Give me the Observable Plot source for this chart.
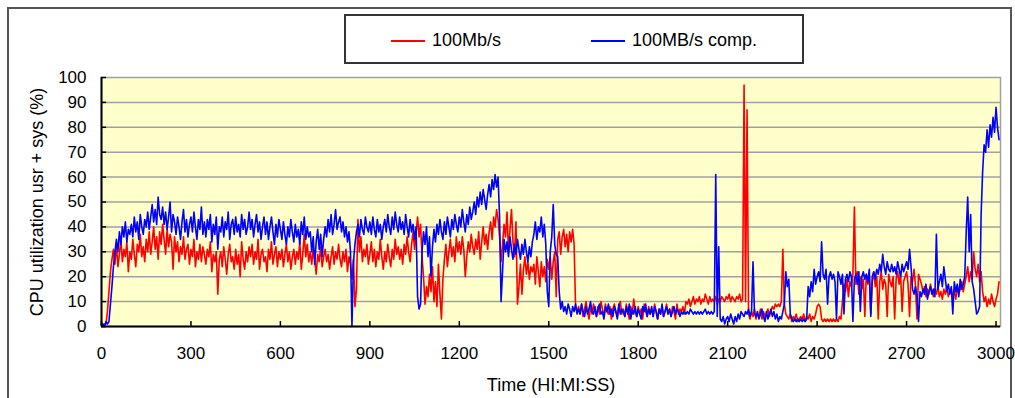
<!DOCTYPE html>
<html>
<head>
<meta charset="utf-8">
<script src="https://cdn.jsdelivr.net/npm/d3@7"></script>
<script src="https://cdn.jsdelivr.net/npm/@observablehq/plot@0.6"></script>
<style>
  html, body { margin: 0; padding: 0; background: #fff; }
  #wrap { position: relative; width: 1015px; height: 398px; overflow: hidden; font-family: "Liberation Sans", Arial, sans-serif; }
  #border { position: absolute; left: 7px; top: 7px; width: 1005px; height: 420px; border: 2px solid #555; box-sizing: border-box; }
  #legend { position: absolute; left: 344px; top: 14px; width: 460px; height: 50px; border: 2px solid #333; box-sizing: border-box; background: #fff; }
  .sw { position: absolute; top: 24px; width: 34px; height: 0; border-top: 2px solid; }
  .lt { position: absolute; top: 13px; font-size: 18px; line-height: 22px; color: #000; white-space: nowrap; }
  #chart { position: absolute; left: 0; top: 0; }
</style>
</head>
<body>
<div id="wrap">
  <div id="border"></div>
  <div id="chart"></div>
  <div id="legend">
    <div class="sw" style="left:45px;border-color:#ff0000"></div>
    <div class="lt" id="l1" style="left:86px"></div>
    <div class="sw" style="left:245px;border-color:#0000ff"></div>
    <div class="lt" id="l2" style="left:286px"></div>
  </div>
</div>
<script>
const seriesNames = ["100Mb/s", "100MB/s comp."];
const xTitle = "Time (HI:MI:SS)";
const yTitle = "CPU utilization usr + sys (%)";
const xTicks = [0, 300, 600, 900, 1200, 1500, 1800, 2100, 2400, 2700, 3000];
const yTicks = [0, 10, 20, 30, 40, 50, 60, 70, 80, 90, 100];
const stepSeconds = 5;

// 100Mb/s (red), one value every 5 s from 0 to 3010 (rows of 50 s)
const red = [
  1,0,1,1,6,14,22,27,31,25,
  33,24,29,35,26,31,28,34,22,30,
  27,35,29,24,33,30,37,28,32,26,
  35,30,38,29,34,40,31,36,27,38,
  33,41,35,29,39,32,37,34,23,36,
  30,34,26,32,29,36,27,31,33,25,
  31,28,35,24,30,27,33,26,32,29,
  25,31,28,34,22,29,26,30,13,27,
  30,24,32,27,21,29,33,26,28,23,
  31,25,29,20,34,27,23,30,26,32,
  28,33,25,30,27,35,23,29,31,26,
  28,22,31,27,34,25,29,32,24,30,
  27,31,24,29,33,26,30,23,28,31,
  25,30,27,34,23,29,37,28,33,26,
  30,25,31,27,21,29,26,32,24,28,
  31,26,29,23,28,32,25,30,27,33,
  27,24,30,26,31,22,28,25,19,27,
  8,15,43,30,36,26,31,28,33,25,
  29,34,26,31,24,30,27,35,28,23,
  30,26,33,28,24,31,27,35,29,32,
  27,31,25,33,29,36,30,26,33,38,
  31,37,44,36,41,28,20,9,16,12,
  21,14,24,10,18,8,25,13,3,19,
  27,33,24,30,35,28,32,26,36,30,
  34,29,36,31,20,28,34,30,37,32,
  29,35,31,38,27,34,40,33,37,31,
  38,42,35,44,40,47,43,36,26,33,
  41,36,46,30,39,47,34,28,42,9,
  16,25,13,23,28,21,26,19,24,22,
  25,17,28,22,16,26,20,24,18,27,
  23,28,19,26,30,12,35,38,29,36,
  39,32,37,30,38,34,39,33,7,6,
  8,5,9,4,7,10,6,3,8,5,
  9,6,4,8,5,10,7,4,9,6,
  5,8,3,7,9,6,4,8,10,5,
  7,4,9,6,3,8,5,11,6,4,
  8,5,7,3,9,6,4,8,5,7,
  4,9,6,3,7,5,8,4,6,9,
  5,7,4,8,6,3,9,5,7,6,
  8,5,10,9,11,8,10,12,9,11,
  10,12,9,11,10,13,11,9,12,10,
  11,10,12,9,11,10,12,11,10,12,
  11,13,10,12,11,10,12,11,13,10,
  11,97,10,87,5,3,6,4,7,3,
  5,4,7,3,6,4,5,7,4,6,
  8,7,9,8,9,8,10,31,9,5,
  4,3,5,2,4,3,5,2,3,4,
  3,5,2,4,3,5,2,4,3,5,
  8,9,8,3,2,3,2,3,2,3,
  2,3,2,3,2,4,3,10,17,14,
  19,12,18,16,21,48,17,22,13,20,
  15,19,4,21,17,20,5,18,22,16,
  20,3,18,22,15,19,17,4,21,18,
  16,20,3,19,22,17,21,6,18,20,
  22,17,4,20,18,23,16,3,21,19,
  17,14,16,12,15,13,17,14,12,15,
  13,16,12,14,11,15,13,16,12,14,
  15,12,14,11,16,13,15,18,14,17,
  20,24,18,22,19,30,23,20,25,18,
  22,14,10,12,8,11,9,13,10,8,
  11,13,18
];

// 100MB/s comp. (blue), one value every 5 s from 0 to 3010 (rows of 50 s)
const blue = [
  1,1,0,2,1,2,9,16,24,30,
  35,30,38,33,40,36,42,34,39,37,
  41,36,44,38,42,35,45,40,37,43,
  40,46,39,44,49,42,47,41,52,45,
  43,48,41,46,39,44,50,38,45,42,
  37,44,40,35,42,47,38,43,36,41,
  44,38,46,40,35,43,39,48,37,42,
  36,43,39,45,34,41,37,44,31,40,
  38,44,36,42,39,46,35,41,43,37,
  44,38,41,36,45,39,43,37,40,46,
  39,43,36,41,45,38,42,35,40,44,
  37,42,35,40,44,38,33,41,36,43,
  39,35,42,37,33,40,36,43,38,34,
  41,36,39,33,42,37,44,35,40,36,
  38,30,36,25,34,39,31,37,28,35,
  40,36,43,38,45,37,41,47,39,42,
  44,38,42,36,40,34,38,30,0,26,
  33,38,41,36,43,39,37,44,40,38,
  42,37,44,39,36,43,38,41,35,40,
  43,38,45,40,37,44,39,46,41,38,
  44,39,42,37,45,40,36,43,38,41,
  35,40,12,7,9,30,38,33,40,28,
  36,20,32,39,34,41,37,43,38,35,
  42,37,44,40,36,43,39,45,41,38,
  44,40,47,42,38,45,41,48,43,46,
  50,45,52,48,54,49,55,51,47,53,
  57,52,59,55,61,56,60,44,10,22,
  35,30,34,28,36,31,27,33,29,35,
  31,27,33,29,35,30,26,32,28,34,
  37,42,35,40,38,44,36,41,33,14,
  8,30,36,49,33,29,28,14,7,10,
  6,8,5,9,7,4,8,6,9,5,
  7,5,9,6,4,8,5,7,10,6,
  5,8,4,7,9,5,6,3,8,6,
  9,5,7,4,8,6,3,9,5,7,
  6,4,8,5,9,3,7,5,8,4,
  7,5,3,8,6,9,4,7,5,8,
  4,8,6,3,7,5,9,4,6,8,
  5,7,4,6,8,5,7,6,4,6,
  5,6,5,6,5,7,6,5,6,5,
  6,5,6,5,6,7,5,6,5,6,
  5,6,61,4,32,3,2,4,1,3,
  4,2,5,3,1,4,2,5,3,6,
  5,4,6,5,7,4,6,26,5,4,
  6,3,5,7,4,2,6,3,5,7,
  4,6,3,5,2,4,3,6,9,22,
  16,19,5,3,2,3,2,3,2,3,
  2,3,2,3,16,12,18,14,23,17,
  20,22,18,34,21,19,23,9,20,22,
  19,21,18,3,22,20,17,21,5,19,
  21,18,22,20,2,19,21,17,22,6,
  20,22,19,21,18,23,4,20,22,19,
  23,21,25,22,29,24,21,26,23,22,
  25,22,24,21,26,23,20,25,22,24,
  26,23,31,24,15,13,16,12,2,14,
  12,15,13,17,11,14,16,13,15,12,
  37,15,18,21,16,24,19,14,17,13,
  16,5,18,14,17,12,19,15,17,20,
  38,52,30,45,18,15,10,5,6,8,
  45,62,73,70,79,72,81,76,84,78,
  88,80,75
];

document.getElementById("l1").textContent = seriesNames[0];
document.getElementById("l2").textContent = seriesNames[1];

const chart = Plot.plot({
  width: 1015,
  height: 398,
  marginLeft: 101,
  marginRight: 15,
  marginTop: 77,
  marginBottom: 72,
  x: {domain: [0, 3015]},
  y: {domain: [0, 100]},
  style: {fontFamily: "'Liberation Sans', Arial, sans-serif", fontSize: "17px", color: "#000", background: "transparent", overflow: "visible"},
  marks: [
    Plot.frame({fill: "#ffffcc", stroke: "#a0a0a0", strokeWidth: 1.5}),
    Plot.gridY(yTicks.slice(1, -1), {stroke: "#a0a0a0", strokeOpacity: 1, strokeWidth: 1.5}),
    Plot.lineY(red, {x: (d, i) => i * stepSeconds, y: d => d, stroke: "#ff0000", strokeWidth: 1.6}),
    Plot.lineY(blue, {x: (d, i) => i * stepSeconds, y: d => d, stroke: "#0000ff", strokeWidth: 1.6}),
    Plot.ruleX(xTicks, {x: d => d, y1: 0, y2: 2, stroke: "#000", strokeWidth: 1.5}),
    Plot.ruleY(yTicks, {y: d => d, x1: 0, x2: 17, stroke: "#000", strokeWidth: 1.5}),
    Plot.ruleY([0], {stroke: "#000", strokeWidth: 2}),
    Plot.ruleX([0], {stroke: "#000", strokeWidth: 2}),
    Plot.axisX(xTicks, {tickSize: 0, tickPadding: 20, label: null, fontSize: 17, tickFormat: d => String(d)}),
    Plot.axisY(yTicks, {tickSize: 0, tickPadding: 15, label: null, fontSize: 17, tickFormat: d => String(d)}),
    Plot.text([xTitle], {text: d => d, frameAnchor: "bottom", lineAnchor: "middle", textAnchor: "middle", dy: 59, fontSize: 18, fill: "#000"}),
    Plot.text([yTitle], {text: d => d, frameAnchor: "left", lineAnchor: "middle", textAnchor: "middle", rotate: -90, dx: -64, fontSize: 18, fill: "#000"})
  ]
});
document.getElementById("chart").appendChild(chart);
</script>
</body>
</html>
